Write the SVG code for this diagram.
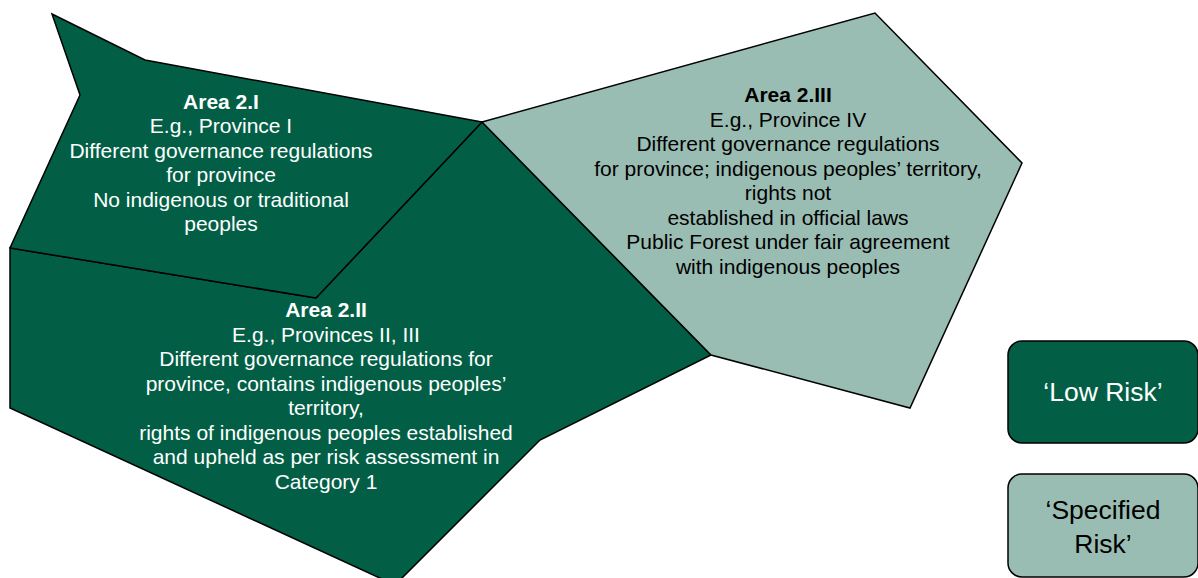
<svg xmlns="http://www.w3.org/2000/svg" width="1198" height="578" viewBox="0 0 1198 578">
<style>
.dark{fill:#025F45;stroke:#000;stroke-width:1.5;stroke-linejoin:miter}
.light{fill:#9ABDB3;stroke:#000;stroke-width:1.5;stroke-linejoin:miter}
text{font-family:"Liberation Sans",Arial,sans-serif;text-anchor:middle}
.t{font-size:21px}
.w{fill:#fff}
.k{fill:#000}
.b{font-weight:bold}
.lg{font-size:26.5px}
</style>
<rect width="1198" height="578" fill="#fff"/>
<g id="area2II">
<polygon class="dark" points="10,248 316,298 482,122 711,355 540,440 395,585 10,408"/>
<text class="t w"><tspan class="b" x="326" y="317">Area 2.II</tspan><tspan x="326" y="341.5">E.g., Provinces II, III</tspan><tspan x="326" y="366">Different governance regulations for</tspan><tspan x="326" y="390.5">province, contains indigenous peoples’</tspan><tspan x="326" y="415">territory,</tspan><tspan x="326" y="439.5">rights of indigenous peoples established</tspan><tspan x="326" y="464">and upheld as per risk assessment in</tspan><tspan x="326" y="488.5">Category 1</tspan></text>
</g>
<g id="area2I">
<polygon class="dark" points="52,14 145,60 482,122 316,298 10,248 80,95"/>
<text class="t w"><tspan class="b" x="221" y="108.5">Area 2.I</tspan><tspan x="221" y="133">E.g., Province I</tspan><tspan x="221" y="157.5">Different governance regulations</tspan><tspan x="221" y="182">for province</tspan><tspan x="221" y="206.5">No indigenous or traditional</tspan><tspan x="221" y="231">peoples</tspan></text>
</g>
<g id="area2III">
<polygon class="light" points="482,122 875,13 1022,163 910,408 711,355"/>
<text class="t k"><tspan class="b" x="788" y="102">Area 2.III</tspan><tspan x="788" y="126.5">E.g., Province IV</tspan><tspan x="788" y="151">Different governance regulations</tspan><tspan x="788" y="175.5">for province; indigenous peoples’ territory,</tspan><tspan x="788" y="200">rights not</tspan><tspan x="788" y="224.5">established in official laws</tspan><tspan x="788" y="249">Public Forest under fair agreement</tspan><tspan x="788" y="273.5">with indigenous peoples</tspan></text>
</g>
<g id="legendLow">
<rect class="dark" x="1008" y="341" width="190" height="102" rx="14" ry="14"/>
<text class="lg w" x="1103" y="401">‘Low Risk’</text>
</g>
<g id="legendSpecified">
<rect class="light" x="1008" y="474" width="190" height="103" rx="14" ry="14"/>
<text class="lg k"><tspan x="1103" y="519">‘Specified</tspan><tspan x="1103" y="553">Risk’</tspan></text>
</g>
<g id="connectors"></g>
</svg>
